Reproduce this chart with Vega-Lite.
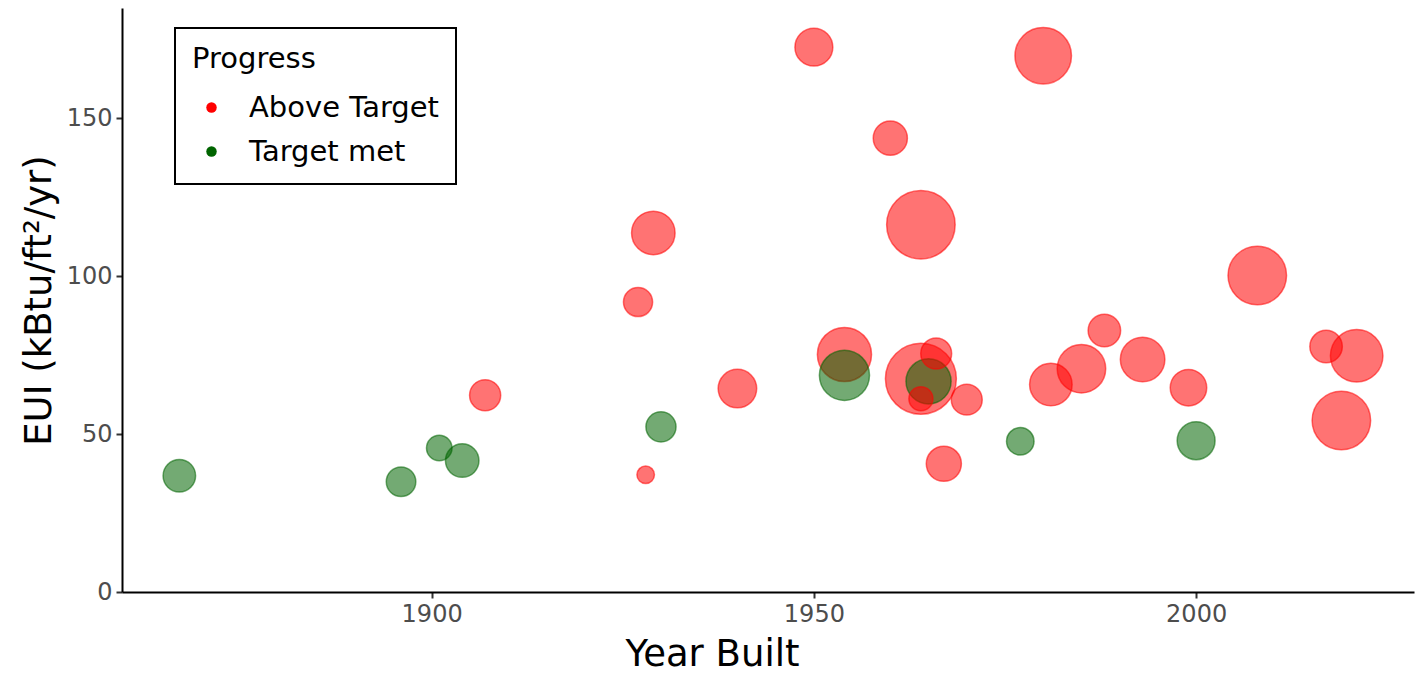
{
  "$schema": "https://vega.github.io/schema/vega-lite/v6.json",
  "width": 1292,
  "height": 584,
  "autosize": {"type": "none"},
  "padding": {"left": 122, "top": 8, "right": 10, "bottom": 88},
  "background": "white",
  "config": {
    "view": {"stroke": null},
    "font": "DejaVu Sans",
    "axis": {
      "grid": false,
      "domainColor": "black",
      "domainWidth": 2,
      "tickColor": "#333333",
      "tickWidth": 2,
      "tickSize": 6,
      "labelFont": "DejaVu Sans",
      "labelFontSize": 24,
      "labelColor": "#4D4D4D",
      "labelPadding": 4,
      "titleFont": "DejaVu Sans",
      "titleFontSize": 37,
      "titleFontWeight": "normal",
      "titleColor": "black"
    },
    "legend": {
      "orient": "none",
      "legendX": 53,
      "legendY": 20,
      "strokeColor": "black",
      "strokeWidth": 2,
      "padding": 17,
      "titleFont": "DejaVu Sans",
      "titleFontSize": 29,
      "titleFontWeight": "normal",
      "titleColor": "black",
      "titlePadding": 19,
      "labelFont": "DejaVu Sans",
      "labelFontSize": 29,
      "labelColor": "black",
      "labelOffset": 23,
      "labelLimit": 500,
      "symbolType": "circle",
      "symbolSize": 110,
      "symbolOpacity": 1,
      "symbolStrokeWidth": 0,
      "symbolOffset": 5,
      "rowPadding": 14
    }
  },
  "data": {
    "values": [
      {"Year": 1964, "EUI": 67.5, "Area": 1257, "Progress": "Above Target"},
      {"Year": 1954, "EUI": 75.2, "Area": 732, "Progress": "Above Target"},
      {"Year": 1964, "EUI": 116.3, "Area": 1173, "Progress": "Above Target"},
      {"Year": 1907, "EUI": 62.3, "Area": 242, "Progress": "Above Target"},
      {"Year": 1927, "EUI": 91.8, "Area": 212, "Progress": "Above Target"},
      {"Year": 1928, "EUI": 37.1, "Area": 77, "Progress": "Above Target"},
      {"Year": 1929, "EUI": 113.7, "Area": 473, "Progress": "Above Target"},
      {"Year": 1940, "EUI": 64.4, "Area": 371, "Progress": "Above Target"},
      {"Year": 1950, "EUI": 172.5, "Area": 359, "Progress": "Above Target"},
      {"Year": 1960, "EUI": 143.7, "Area": 291, "Progress": "Above Target"},
      {"Year": 1867, "EUI": 36.8, "Area": 264, "Progress": "Target met"},
      {"Year": 1896, "EUI": 34.9, "Area": 218, "Progress": "Target met"},
      {"Year": 1901, "EUI": 45.6, "Area": 163, "Progress": "Target met"},
      {"Year": 1904, "EUI": 41.6, "Area": 281, "Progress": "Target met"},
      {"Year": 1930, "EUI": 52.3, "Area": 227, "Progress": "Target met"},
      {"Year": 1954, "EUI": 68.6, "Area": 628, "Progress": "Target met"},
      {"Year": 1965, "EUI": 66.7, "Area": 509, "Progress": "Target met"},
      {"Year": 1977, "EUI": 47.7, "Area": 189, "Progress": "Target met"},
      {"Year": 2000, "EUI": 47.9, "Area": 359, "Progress": "Target met"},
      {"Year": 1966, "EUI": 75.5, "Area": 239, "Progress": "Above Target"},
      {"Year": 1964, "EUI": 61.2, "Area": 145, "Progress": "Above Target"},
      {"Year": 1970, "EUI": 60.9, "Area": 239, "Progress": "Above Target"},
      {"Year": 1967, "EUI": 40.6, "Area": 308, "Progress": "Above Target"},
      {"Year": 1980, "EUI": 169.8, "Area": 798, "Progress": "Above Target"},
      {"Year": 1981, "EUI": 65.7, "Area": 452, "Progress": "Above Target"},
      {"Year": 1985, "EUI": 70.7, "Area": 588, "Progress": "Above Target"},
      {"Year": 1988, "EUI": 82.8, "Area": 264, "Progress": "Above Target"},
      {"Year": 1993, "EUI": 73.6, "Area": 495, "Progress": "Above Target"},
      {"Year": 1999, "EUI": 64.7, "Area": 333, "Progress": "Above Target"},
      {"Year": 2008, "EUI": 100.2, "Area": 856, "Progress": "Above Target"},
      {"Year": 2017, "EUI": 77.7, "Area": 264, "Progress": "Above Target"},
      {"Year": 2021, "EUI": 74.8, "Area": 689, "Progress": "Above Target"},
      {"Year": 2019, "EUI": 54.3, "Area": 856, "Progress": "Above Target"}
    ]
  },
  "mark": {"type": "circle", "fillOpacity": 0.55, "strokeOpacity": 0.55, "strokeWidth": 1.5},
  "encoding": {
    "x": {
      "field": "Year",
      "type": "quantitative",
      "scale": {"domain": [1859.5, 2028.5], "nice": false, "zero": false},
      "axis": {"values": [1900, 1950, 2000], "format": "d", "title": "Year Built", "titlePadding": 10, "titleX": 590}
    },
    "y": {
      "field": "EUI",
      "type": "quantitative",
      "scale": {"domain": [0, 184.9], "nice": false},
      "axis": {"values": [0, 50, 100, 150], "title": "EUI (kBtu/ft²/yr)", "titlePadding": 8}
    },
    "size": {
      "field": "Area",
      "type": "quantitative",
      "scale": {"domain": [0, 1000], "range": [0, 4000]},
      "legend": null
    },
    "color": {
      "field": "Progress",
      "type": "nominal",
      "scale": {"domain": ["Above Target", "Target met"], "range": ["#FF0000", "#006400"]},
      "legend": {"title": "Progress"}
    },
    "stroke": {
      "field": "Progress",
      "type": "nominal",
      "scale": {"domain": ["Above Target", "Target met"], "range": ["#FF0000", "#006400"]},
      "legend": null
    }
  }
}
